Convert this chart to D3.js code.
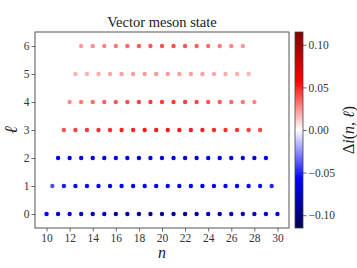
<!DOCTYPE html>
<html><head><meta charset="utf-8">
<script src="https://cdn.jsdelivr.net/npm/d3@7"></script>
<style>body{margin:0;background:#fff}svg{display:block}</style>
</head><body>
<svg id="c" width="357" height="268"></svg>
<script>
const title = "Vector meson state";
const xTicks = [10,12,14,16,18,20,22,24,26,28,30];
const yTicks = [0,1,2,3,4,5,6];
const cTicks = [-0.10,-0.05,0.00,0.05,0.10];
// rows: ell, starting n, values (step 1 in n)
const ell0 = [-0.060,-0.066,-0.071,-0.075,-0.079,-0.083,-0.086,-0.089,-0.091,-0.092,-0.093,-0.092,-0.090,-0.088,-0.085,-0.082,-0.079,-0.075,-0.071,-0.067,-0.063];
const ell1 = [-0.040,-0.052,-0.055,-0.057,-0.058,-0.060,-0.061,-0.062,-0.062,-0.063,-0.063,-0.062,-0.062,-0.061,-0.060,-0.059,-0.058,-0.056,-0.054,-0.050];
const ell2 = [-0.060,-0.062,-0.063,-0.064,-0.065,-0.066,-0.066,-0.067,-0.067,-0.068,-0.067,-0.067,-0.066,-0.066,-0.065,-0.064,-0.063,-0.062,-0.061];
const ell3 = [0.040,0.043,0.045,0.047,0.048,0.050,0.051,0.052,0.052,0.052,0.052,0.051,0.050,0.049,0.047,0.045,0.043,0.041];
const ell4 = [0.026,0.030,0.033,0.036,0.038,0.040,0.042,0.044,0.045,0.044,0.043,0.041,0.039,0.037,0.034,0.031,0.028];
const ell5 = [0.017,0.018,0.019,0.020,0.021,0.022,0.022,0.023,0.023,0.022,0.022,0.021,0.020,0.019,0.018,0.017];
const ell6 = [0.022,0.025,0.028,0.031,0.034,0.037,0.039,0.040,0.040,0.038,0.036,0.033,0.030,0.027,0.024];
const rows = [[0,10,ell0],[1,10.5,ell1],[2,11,ell2],[3,11.5,ell3],[4,12,ell4],[5,12.5,ell5],[6,13,ell6]];
const points = [];
rows.forEach(([l,n0,vals]) => vals.forEach((v,i) => points.push({n:n0+i, l:l, v:v})));

const svg = d3.select("#c");
const L=35, R=289, T=32, B=228;
const x = d3.scaleLinear().domain([9,31]).range([L,R]);
const y = d3.scaleLinear().domain([-0.5,6.5]).range([B,T]);
const vmax = 0.115;
const color = d3.scaleLinear().domain([-vmax,-vmax/2,0,vmax/2,vmax])
  .range(["rgb(0,0,77)","rgb(0,0,255)","rgb(255,255,255)","rgb(255,0,0)","rgb(128,0,0)"]);
const serif = "'Liberation Serif','DejaVu Serif',serif";

svg.append("g").selectAll("circle").data(points).join("circle")
  .attr("cx", d=>x(d.n)).attr("cy", d=>y(d.l)).attr("r", 2.2)
  .attr("fill", d=>color(d.v));

const gx = svg.append("g").attr("transform",`translate(0,${B})`)
  .call(d3.axisBottom(x).tickValues(xTicks).tickFormat(d3.format("d")).tickSize(3.5).tickSizeOuter(0).tickPadding(2));
const gy = svg.append("g").attr("transform",`translate(${L},0)`)
  .call(d3.axisLeft(y).tickValues(yTicks).tickFormat(d3.format("d")).tickSize(3.5).tickSizeOuter(0).tickPadding(2));
[gx,gy].forEach(g=>{
  g.select(".domain").remove();
  g.selectAll("line").attr("stroke","#444").attr("stroke-width",0.8);
  g.selectAll("text").attr("font-family",serif).attr("font-size",11.5).attr("fill","#333");
});
svg.append("rect").attr("x",L).attr("y",T).attr("width",R-L).attr("height",B-T)
  .attr("fill","none").attr("stroke","#555").attr("stroke-width",1);

svg.append("text").attr("x",(L+R)/2).attr("y",T-5).attr("text-anchor","middle")
  .attr("font-family",serif).attr("font-size",14.5).attr("fill","#222").text(title);
svg.append("text").attr("x",(L+R)/2).attr("y",258).attr("text-anchor","middle")
  .attr("font-family",serif).attr("font-style","italic").attr("font-size",16).attr("fill","#222").text("n");
svg.append("text").attr("transform",`translate(17,${(T+B)/2}) rotate(-90)`).attr("text-anchor","middle")
  .attr("font-family",serif).attr("font-style","italic").attr("font-size",18).attr("fill","#222").text("ℓ");

// colorbar
const cx0=295, cw=8;
const cy = d3.scaleLinear().domain([-vmax,vmax]).range([B,T]);
const defs = svg.append("defs");
const grad = defs.append("linearGradient").attr("id","cg").attr("x1",0).attr("y1",1).attr("x2",0).attr("y2",0);
color.domain().forEach((d,i)=>grad.append("stop").attr("offset",i/4).attr("stop-color",color(d)));
svg.append("rect").attr("x",cx0).attr("y",T).attr("width",cw).attr("height",B-T).attr("fill","url(#cg)")
  .attr("stroke","#444").attr("stroke-width",0.8);
const gc = svg.append("g").attr("transform",`translate(${cx0+cw},0)`)
  .call(d3.axisRight(cy).tickValues(cTicks).tickSize(3.5).tickSizeOuter(0).tickPadding(2)
    .tickFormat(d=>d3.format(".2f")(d).replace("-","−")));
gc.select(".domain").remove();
gc.selectAll("line").attr("stroke","#444").attr("stroke-width",0.8);
gc.selectAll("text").attr("font-family",serif).attr("font-size",11.5).attr("fill","#333");
const lab = svg.append("text").attr("transform",`translate(354,${(T+B)/2}) rotate(-90)`).attr("text-anchor","middle")
  .attr("font-family",serif).attr("font-size",16).attr("fill","#222");
lab.append("tspan").text("Δ");
lab.append("tspan").attr("font-style","italic").text("i");
lab.append("tspan").text("(");
lab.append("tspan").attr("font-style","italic").text("n");
lab.append("tspan").text(", ");
lab.append("tspan").attr("font-style","italic").text("ℓ");
lab.append("tspan").text(")");
</script>
</body></html>
